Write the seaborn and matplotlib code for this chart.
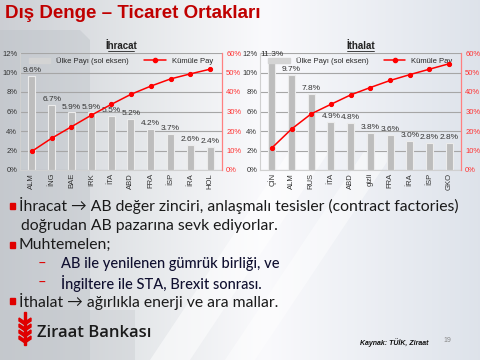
import numpy as np
import pandas as pd
import matplotlib
matplotlib.use("Agg")
import matplotlib.pyplot as plt
import seaborn as sns
from matplotlib.patches import Polygon, Rectangle
from matplotlib.lines import Line2D
from matplotlib.ticker import PercentFormatter

# ---------------- data ----------------
exp_countries = ["ALM", "İNG", "BAE", "IRK", "İTA", "ABD", "FRA", "İSP", "İRA", "HOL"]
exp_share = [9.6, 6.7, 5.9, 5.9, 5.5, 5.2, 4.2, 3.7, 2.6, 2.4]
exp_cum = [9.6, 16.3, 22.2, 28.1, 33.6, 38.8, 43.0, 46.7, 49.3, 51.7]

imp_countries = ["ÇİN", "ALM", "RUS", "İTA", "ABD", "gizli", "FRA", "İRA", "İSP", "GKO"]
imp_share = [11.3, 9.7, 7.8, 4.9, 4.8, 3.8, 3.6, 3.0, 2.8, 2.8]
imp_cum = [11.3, 21.0, 28.8, 33.7, 38.5, 42.3, 45.9, 48.9, 51.7, 54.5]

title = "Dış Denge – Ticaret Ortakları"
chart_titles = ["İhracat", "İthalat"]
legend_labels = ["Ülke Payı (sol eksen)", "Kümüle Pay"]

sns.set_theme(style="white")
plt.rcParams["font.family"] = ["Liberation Sans", "DejaVu Sans"]

fig = plt.figure(figsize=(4.8, 3.6), dpi=100)

# ---------------- background ----------------
bg = fig.add_axes([0, 0, 1, 1], zorder=-10)
bg.set_xlim(0, 480)
bg.set_ylim(360, 0)
bg.axis("off")
grad = np.linspace(0, 1, 256)
r = np.interp(grad, [0, 0.3, 0.55, 1], [0.80, 0.90, 0.98, 0.87])
g = np.interp(grad, [0, 0.3, 0.55, 1], [0.81, 0.91, 0.98, 0.89])
b = np.interp(grad, [0, 0.3, 0.55, 1], [0.83, 0.92, 0.99, 0.92])
img = np.stack([r, g, b], axis=-1)[None, :, :]
bg.imshow(np.repeat(img, 2, axis=0), extent=[0, 480, 360, 0], aspect="auto")
# diagonal light stripes
bg.add_patch(Polygon([[150, 360], [190, 360], [330, 150], [290, 150]], closed=True, color="white", alpha=0.5, lw=0))
bg.add_patch(Polygon([[225, 360], [255, 360], [395, 150], [365, 150]], closed=True, color="white", alpha=0.45, lw=0))
bg.add_patch(Polygon([[0, 30], [80, 30], [90, 40], [90, 360], [0, 360]], closed=True, color="#b8bec4", alpha=0.35, lw=0))
bg.add_patch(Rectangle((0, 310), 135, 50, color="#c4c8cc", alpha=0.35, lw=0))

# ---------------- title ----------------
fig.text(5 / 480, 1 - 14 / 360, title, color="#c00000", fontsize=13.5, fontweight="bold",
         va="center", ha="left", family=["Liberation Sans", "DejaVu Sans"])

# ---------------- charts ----------------
def draw_chart(rect, cats, share, cum, ctitle):
    ax = fig.add_axes(rect)
    ax.patch.set_alpha(0)
    df = pd.DataFrame({"c": cats, "s": share, "k": cum})
    sns.barplot(data=df, x="c", y="s", ax=ax, color="#bdbdbd", width=0.36,
                edgecolor="#ececec", linewidth=0.8, saturation=1)
    ax.set_ylim(0, 12)
    ax.set_yticks(np.arange(0, 13, 2))
    ax.yaxis.set_major_formatter(PercentFormatter(decimals=0))
    ax.set_xlim(-0.6, len(cats) - 0.4)
    ax.grid(axis="y", color="#a6a6a6", lw=0.8)
    ax.set_axisbelow(True)
    ax.set_xlabel("")
    ax.set_ylabel("")
    ax.tick_params(axis="y", labelsize=5.5, pad=2, length=0, colors="#333333")
    ax.tick_params(axis="x", labelsize=5.5, rotation=90, pad=2, length=0, colors="#333333")
    for sp in ["top", "right"]:
        ax.spines[sp].set_visible(False)
    for sp in ["left", "bottom"]:
        ax.spines[sp].set_color("#d0d0d0")
        ax.spines[sp].set_linewidth(0.8)
    for i, v in enumerate(share):
        ax.text(i, v + 0.2, f"{v:.1f}%", ha="center", va="bottom", fontsize=6, color="#333333")

    ax2 = ax.twinx()
    sns.lineplot(x=cats, y=cum, ax=ax2, sort=False, color="#ff0000", lw=1.1,
                 marker="o", markersize=3, markeredgecolor="#ff0000")
    ax2.set_ylim(0, 60)
    ax2.set_yticks(np.arange(0, 61, 10))
    ax2.yaxis.set_major_formatter(PercentFormatter(decimals=0))
    ax2.tick_params(axis="y", labelsize=5.5, pad=3, length=0, colors="#ff3333")
    ax2.grid(False)
    for sp in ["top", "left", "bottom"]:
        ax2.spines[sp].set_visible(False)
    ax2.spines["right"].set_color("#ff8080")
    ax2.spines["right"].set_linewidth(0.9)

    handles = [Rectangle((0, 0), 1, 1, color="#d4d4d4"),
               Line2D([], [], color="#ff0000", lw=1.1, marker="o", markersize=3)]
    ax.legend(handles, legend_labels, loc="upper center", bbox_to_anchor=(0.5, 1.0),
              ncol=2, frameon=False, fontsize=5.5, handlelength=2.8, handleheight=0.6,
              columnspacing=2.0, borderaxespad=0.15)
    x0, y0, w, h = rect
    fig.text(x0 + w / 2, 1 - 46 / 360, ctitle, ha="center", va="center", fontsize=7,
             fontweight="bold", color="#222222")
    # underline
    tw = 0.055
    fig.add_artist(Line2D([x0 + w / 2 - tw / 2, x0 + w / 2 + tw / 2],
                          [1 - 51 / 360, 1 - 51 / 360], color="#222222", lw=0.6))
    return ax

draw_chart([20 / 480, 1 - 170 / 360, 202 / 480, 117 / 360], exp_countries, exp_share, exp_cum, chart_titles[0])
draw_chart([260 / 480, 1 - 170 / 360, 201 / 480, 117 / 360], imp_countries, imp_share, imp_cum, chart_titles[1])

# ---------------- bullet text ----------------
txt_font = ["Lato", "DejaVu Sans"]
fs = 11.3

def bullet(y, text, x=19):
    fig.patches.append(Rectangle((10 / 480, 1 - (y + 3) / 360), 5 / 480, 6 / 360,
                                 transform=fig.transFigure, color="#e00000", figure=fig))
    fig.text(x / 480, 1 - y / 360, text, fontsize=fs, va="center", ha="left",
             family=txt_font, color="#1a1a1a")

def sub(y, text):
    fig.text(38 / 480, 1 - y / 360, "–", fontsize=10.5, va="center", ha="left",
             family=txt_font, color="#e00000")
    fig.text(61 / 480, 1 - y / 360, text, fontsize=10.5, va="center", ha="left",
             family=txt_font, color="#101030", fontweight="medium")

bullet(206, "İhracat → AB değer zinciri, anlaşmalı tesisler (contract factories)")
fig.text(21 / 480, 1 - 226 / 360, "doğrudan AB pazarına sevk ediyorlar.", fontsize=fs,
         va="center", ha="left", family=txt_font, color="#1a1a1a")
bullet(245, "Muhtemelen;")
sub(264, "AB ile yenilenen gümrük birliği, ve")
sub(283, "İngiltere ile STA, Brexit sonrası.")
bullet(301, "İthalat → ağırlıkla enerji ve ara mallar.")

# ---------------- footer ----------------
fig.text(37 / 480, 1 - 333 / 360, "Ziraat Bankası", fontsize=12, va="center", ha="left",
         family=["Open Sans", "DejaVu Sans"], color="#1a1a1a", fontweight="semibold")
for k in range(4):
    yy = 318 + k * 6
    fig.patches.append(Polygon([[19 / 480, 1 - yy / 360], [25 / 480, 1 - (yy + 4) / 360],
                                [31 / 480, 1 - yy / 360], [31 / 480, 1 - (yy + 3) / 360],
                                [25 / 480, 1 - (yy + 7) / 360], [19 / 480, 1 - (yy + 3) / 360]],
                               closed=True, transform=fig.transFigure, color="#e00000",
                               figure=fig))
fig.patches.append(Rectangle((24 / 480, 1 - 345 / 360), 2 / 480, 33 / 360,
                             transform=fig.transFigure, color="#e00000", figure=fig))
fig.text(360 / 480, 1 - 343 / 360, "Kaynak: TÜİK, Ziraat", fontsize=5, va="center", ha="left",
         style="italic", fontweight="bold", color="#111111")
fig.text(443 / 480, 1 - 341 / 360, "19", fontsize=5, va="center", ha="left", color="#888888")

fig.savefig("out.png", dpi=100)
